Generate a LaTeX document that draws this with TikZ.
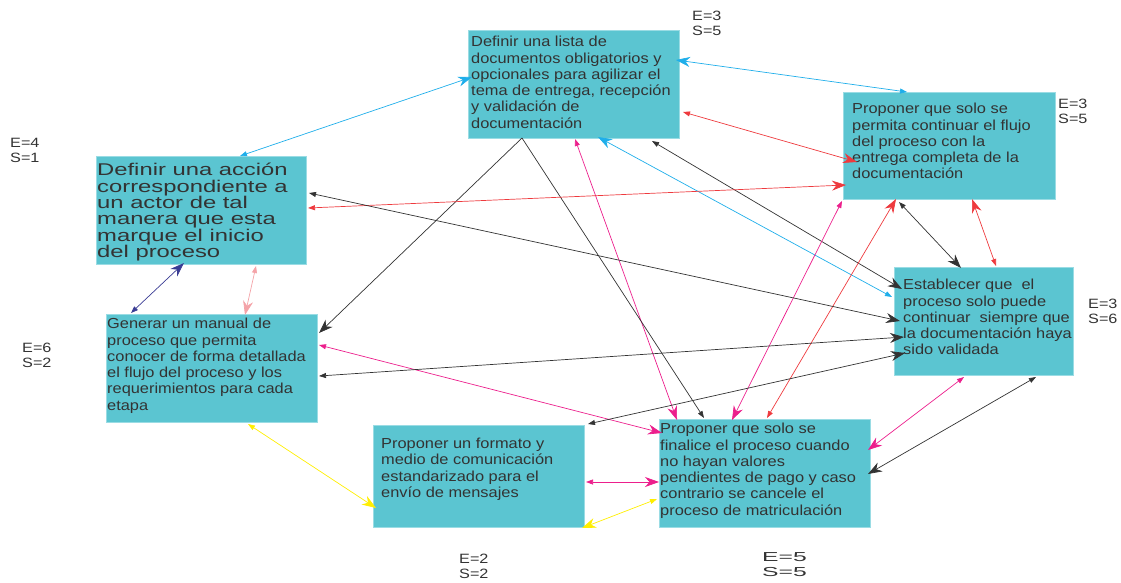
\documentclass[tikz,border=0pt]{standalone}
\usepackage{fontspec}
\usetikzlibrary{arrows.meta}
\newfontfamily\bodyfont{Liberation Sans}[FakeStretch=1.13]
\newfontfamily\bigfont{Liberation Sans}[FakeStretch=1.4]
\newfontfamily\tagfont{Liberation Sans}[FakeStretch=1.2]
\newfontfamily\widetagfont{Liberation Sans}[FakeStretch=1.9]

\definecolor{boxfill}{HTML}{5BC5D1}
\definecolor{boxedge}{HTML}{9ADCE4}
\definecolor{ink}{HTML}{333333}
\definecolor{cblue}{HTML}{1FAEEA}
\definecolor{cred}{HTML}{EE3A3E}
\definecolor{cpink}{HTML}{EC1F8C}
\definecolor{cblack}{HTML}{333333}
\definecolor{cnavy}{HTML}{3A3C94}
\definecolor{csalmon}{HTML}{F4A3A8}
\definecolor{cyellow}{HTML}{FFEE00}

\tikzset{
  box/.style={anchor=north west, fill=boxfill, draw=boxedge, line width=0.7pt, inner sep=0pt},
  txt/.style={anchor=north west, inner sep=0pt, align=left, text=ink,
    font=\bodyfont\fontsize{14.5}{16.3}\selectfont},
  bigtxt/.style={anchor=north west, inner sep=0pt, align=left, text=ink,
    font=\bigfont\fontsize{17}{16.4}\selectfont},
  tag/.style={anchor=north west, inner sep=0pt, align=left, text=ink,
    font=\tagfont\fontsize{13.5}{15}\selectfont},
  widetag/.style={anchor=north west, inner sep=0pt, align=left, text=ink,
    font=\widetagfont\fontsize{13}{15.5}\selectfont},
  con/.style={line width=0.7pt},
  % big head at the start, small head at the end
  bs/.style={arrows={Stealth[length=14pt,width=10pt,inset=4.5pt]-Triangle[length=7pt,width=5pt]}},
  % small head at the start, big head at the end
  sb/.style={arrows={Triangle[length=7pt,width=5pt]-Stealth[length=14pt,width=10pt,inset=4.5pt]}},
  tob/.style={arrows={-Stealth[length=14pt,width=10pt,inset=4.5pt]}},
  tos/.style={arrows={-Triangle[length=7pt,width=5pt]}},
}

\begin{document}
\begin{tikzpicture}[x=1pt,y=-1pt]
\useasboundingbox (0,0) rectangle (1121,583);

% process boxes
\node[box, minimum width=211pt, minimum height=108pt] (A) at (468,30) {};
\node[box, minimum width=212pt, minimum height=107pt] (B) at (843,92) {};
\node[box, minimum width=210pt, minimum height=108pt] (C) at (96,156) {};
\node[box, minimum width=211pt, minimum height=108pt] (D) at (106,314) {};
\node[box, minimum width=179pt, minimum height=108pt] (E) at (894,267) {};
\node[box, minimum width=211pt, minimum height=102pt] (F) at (373,425) {};
\node[box, minimum width=211pt, minimum height=108pt] (G) at (659,419) {};

% box texts
\node[txt] (Atext) at (471,36) {Definir una lista de\\documentos obligatorios y\\opcionales para agilizar el\\tema de entrega, recepción\\y validación de\\documentación};
\node[txt] (Btext) at (852,103) {Proponer que solo se\\permita continuar el flujo\\del proceso con la\\entrega completa de la\\documentación};
\node[bigtxt] (Ctext) at (97,163) {Definir una acción\\correspondiente a\\un actor de tal\\manera que esta\\marque el inicio\\del proceso};
\node[txt] (Dtext) at (107,318) {Generar un manual de\\proceso que permita\\conocer de forma detallada\\el flujo del proceso y los\\requerimientos para cada\\etapa};
\node[txt] (Etext) at (903,279) {Establecer que\ \ el\\proceso solo puede\\continuar\ \ siempre que\\la documentación haya\\sido validada};
\node[txt] (Ftext) at (381,438) {Proponer un formato y\\medio de comunicación\\estandarizado para el\\envío de mensajes};
\node[txt] (Gtext) at (660,423) {Proponer que solo se\\finalice el proceso cuando\\no hayan valores\\pendientes de pago y caso\\contrario se cancele el\\proceso de matriculación};

% entry / exit counts
\node[tag] (Atag) at (692,11) {E=3\\S=5};
\node[tag] (Btag) at (1058,99) {E=3\\S=5};
\node[tag] (Ctag) at (10,138) {E=4\\S=1};
\node[tag] (Dtag) at (22,343) {E=6\\S=2};
\node[tag] (Etag) at (1088,299) {E=3\\S=6};
\node[tag] (Ftag) at (459,554) {E=2\\S=2};
\node[widetag] (Gtag) at (762,552) {E=5\\S=5};

% connectors: large head at one box, small head at the other
\draw[con, cblue, bs] ([shift={(4,47)}]A.north west) -- ([shift={(144,0)}]C.north west);
\draw[con, cblue, bs] ([shift={(208,30)}]A.north west) -- ([shift={(64,0)}]B.north west);
\draw[con, cred, sb] ([shift={(215,82)}]A.north west) -- ([shift={(14,70)}]B.north west);
\draw[con, cpink, sb] ([shift={(107,109)}]A.north west) -- ([shift={(18,1)}]G.north west);
\draw[con, cblue, bs] ([shift={(130,107)}]A.north west) -- ([shift={(-2,30)}]E.north west);
\draw[con, cblack, sb] ([shift={(184,111)}]A.north west) -- ([shift={(8,22)}]E.north west);
\coordinate (Afork) at ([shift={(54,108)}]A.north west);
\draw[con, cblack, tob] (Afork) -- ([shift={(213,19)}]D.north west);
\draw[con, cblack, tos] (Afork) -- ([shift={(45,-1)}]G.north west);

\draw[con, cred, bs] ([shift={(3,93)}]B.north west) -- ([shift={(212,52)}]C.north west);
\draw[con, cpink, sb] ([shift={(-1,109)}]B.north west) -- ([shift={(73,1)}]G.north west);
\draw[con, cred, bs] ([shift={(53,107)}]B.north west) -- ([shift={(108,-1)}]G.north west);
\draw[con, cblack, sb] ([shift={(56,110)}]B.north west) -- ([shift={(67,1)}]E.north west);
\draw[con, cred, bs] ([shift={(129,107)}]B.north west) -- ([shift={(102,-1)}]E.north west);

\draw[con, cblack, sb] ([shift={(213,37)}]C.north west) -- ([shift={(6,54)}]E.north west);
\draw[con, cnavy, bs] ([shift={(88,107)}]C.north west) -- ([shift={(25,-1)}]D.north west);
\draw[con, csalmon, sb] ([shift={(160,110)}]C.north west) -- ([shift={(139,1)}]D.north west);

\draw[con, cpink, sb] ([shift={(213,31)}]D.north west) -- ([shift={(3,14)}]G.north west);
\draw[con, cblack, bs] ([shift={(10,70)}]E.north west) -- ([shift={(213,62)}]D.north west);
\draw[con, cyellow, sb] ([shift={(142,110)}]D.north west) -- ([shift={(3,83)}]F.north west);

\draw[con, cblack, bs] ([shift={(11,86)}]E.north west) -- ([shift={(215,-1)}]F.north west);
\draw[con, cpink, sb] ([shift={(70,110)}]E.north west) -- ([shift={(209,31)}]G.north west);
\draw[con, cblack, sb] ([shift={(142,110)}]E.north west) -- ([shift={(209,55)}]G.north west);

\draw[con, cpink, sb] ([shift={(213,57)}]F.north west) -- ([shift={(0,63)}]G.north west);
\draw[con, cyellow, bs] ([shift={(209,103)}]F.north west) -- ([shift={(-2,80)}]G.north west);
\end{tikzpicture}
\end{document}
